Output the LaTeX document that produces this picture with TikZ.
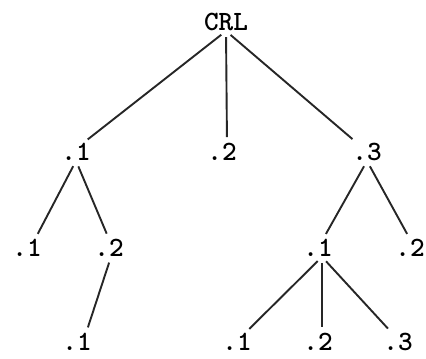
\documentclass[tikz,border=0pt]{standalone}
\usepackage{fontspec}
\usetikzlibrary{positioning}

\begin{document}
\begin{tikzpicture}[x=1bp,y=-1bp,
  lab/.style={font=\ttfamily\bfseries\fontsize{28}{28}\selectfont, inner sep=0bp},
  edge/.style={line width=1.9bp, black!85, shorten <=6bp, shorten >=6bp}]
  \useasboundingbox (0,0) rectangle (426,359);
  % labels
  \node[lab] (crl) at (226,22) {CRL};
  \node[lab] (a) at (76,152) {.1};
  \node[lab] (b) at (222,152) {.2};
  \node[lab] (c) at (367,152) {.3};
  \node[lab] (a1) at (27,248) {.1};
  \node[lab] (a2) at (109,248) {.2};
  \node[lab] (a21) at (77,342) {.1};
  \node[lab] (c1) at (318,248) {.1};
  \node[lab] (c2) at (410,248) {.2};
  \node[lab] (c11) at (237,342) {.1};
  \node[lab] (c12) at (318,342) {.2};
  \node[lab] (c13) at (398,342) {.3};
  % branches
  \draw[edge] (crl.south) -- ([xshift=7bp]a.north);
  \draw[edge] (crl.south) -- ([xshift=5bp]b.north);
  \draw[edge] (crl.south) -- ([xshift=-10bp]c.north);
  \draw[edge] (a.south) -- ([xshift=8bp]a1.north);
  \draw[edge] (a.south) -- (a2.north);
  \draw[edge] ([xshift=2bp]a2.south) -- ([xshift=9bp]a21.north);
  \draw[edge] (c.south) -- ([xshift=5bp]c1.north);
  \draw[edge] (c.south) -- ([xshift=0bp]c2.north);
  \draw[edge] ([xshift=4bp]c1.south) -- ([xshift=8bp]c11.north);
  \draw[edge] ([xshift=4bp]c1.south) -- ([xshift=4bp]c12.north);
  \draw[edge] ([xshift=4bp]c1.south) -- ([xshift=-6bp]c13.north);
\end{tikzpicture}
\end{document}
